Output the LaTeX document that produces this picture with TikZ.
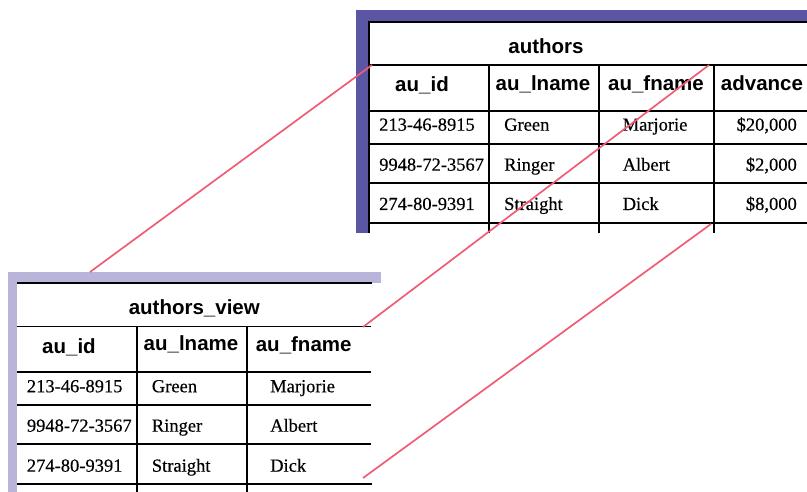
\documentclass[tikz,border=0pt]{standalone}
\usepackage{fontspec}
\setmainfont{Liberation Serif}[FakeBold=0.4]
\newfontfamily\hdrfont{Liberation Sans}
\begin{document}
\begin{tikzpicture}[x=1pt,y=-1pt,
  hdr/.style={font=\hdrfont\bfseries\fontsize{20.5}{24}\selectfont, inner sep=0pt, anchor=base},
  cell/.style={font=\fontsize{18.5}{22}\selectfont, inner sep=0pt, anchor=base west},
  cellr/.style={font=\fontsize{18.5}{22}\selectfont, inner sep=0pt, anchor=base east},
  grid/.style={line width=1.5pt, black},
  thick grid/.style={line width=2.2pt, black},
  link/.style={line width=1.7pt, draw={rgb,255:red,240;green,92;blue,118}}]
\useasboundingbox (0,0) rectangle (807,492);
\definecolor{topband}{RGB}{90,86,164}
\definecolor{botband}{RGB}{185,180,218}
% ---------- top table: authors ----------
\fill[topband] (356,10) rectangle (807,22);
\fill[topband] (356,10) rectangle (368,233);
\draw[thick grid] (368,22) -- (807,22);
\draw[grid] (369,22) -- (369,233);
\foreach \yy in {65,111,144,183,223} \draw[grid] (369,\yy) -- (807,\yy);
\foreach \xx in {489,599,714} \draw[grid] (\xx,65) -- (\xx,233);
\node[hdr] (ta) at (546,53.3) {authors};
\node[hdr] (ta1) at (422,91.7) {au\_id};
\node[hdr] (ta2) at (543,90.7) {au\_lname};
\node[hdr] (ta3) at (656,90.7) {au\_fname};
\node[hdr] (ta4) at (762,90.7) {advance};
\node[cell] (t11) at (379,130.7) {213-46-8915};
\node[cell] (t12) at (504,130.7) {Green};
\node[cell] (t13) at (622.5,130.7) {Marjorie};
\node[cellr] (t14) at (797,130.7) {\$20,000};
\node[cell] (t21) at (379,170.7) {9948-72-3567};
\node[cell] (t22) at (504,170.7) {Ringer};
\node[cell] (t23) at (622.5,170.7) {Albert};
\node[cellr] (t24) at (797,170.7) {\$2,000};
\node[cell] (t31) at (379,210) {274-80-9391};
\node[cell] (t32) at (504,210) {Straight};
\node[cell] (t33) at (622.5,210) {Dick};
\node[cellr] (t34) at (797,210) {\$8,000};
% ---------- bottom table: authors_view ----------
\fill[botband] (8,272) rectangle (381,283);
\fill[botband] (8,272) rectangle (17,492);
\draw[thick grid] (17,283) -- (372,283);
\foreach \yy in {326.7,372,405,444} \draw[grid] (17,\yy) -- (371,\yy);
\draw[thick grid] (17,484) -- (372,484);
\foreach \xx in {137,247} \draw[grid] (\xx,326.7) -- (\xx,492);
\node[hdr] (va) at (194.3,314.3) {authors\_view};
\node[hdr] (va1) at (69,353.3) {au\_id};
\node[hdr] (va2) at (191,350.7) {au\_lname};
\node[hdr] (va3) at (303.7,351.2) {au\_fname};
\node[cell] (v11) at (26.7,392.3) {213-46-8915};
\node[cell] (v12) at (151.7,392.3) {Green};
\node[cell] (v13) at (270,392.3) {Marjorie};
\node[cell] (v21) at (26.7,431.7) {9948-72-3567};
\node[cell] (v22) at (151.7,431.7) {Ringer};
\node[cell] (v23) at (270,431.7) {Albert};
\node[cell] (v31) at (26.7,471.7) {274-80-9391};
\node[cell] (v32) at (151.7,471.7) {Straight};
\node[cell] (v33) at (270,471.7) {Dick};
% ---------- connectors ----------
\coordinate (a1) at (372,65);
\coordinate (b1) at (90,272);
\coordinate (a2) at (709,65);
\coordinate (b2) at (363,327);
\coordinate (a3) at (711,224);
\coordinate (b3) at (363,478);
\draw[link] (a1) -- (b1);
\draw[link] (a2) -- (b2);
\draw[link] (a3) -- (b3);
\end{tikzpicture}
\end{document}
